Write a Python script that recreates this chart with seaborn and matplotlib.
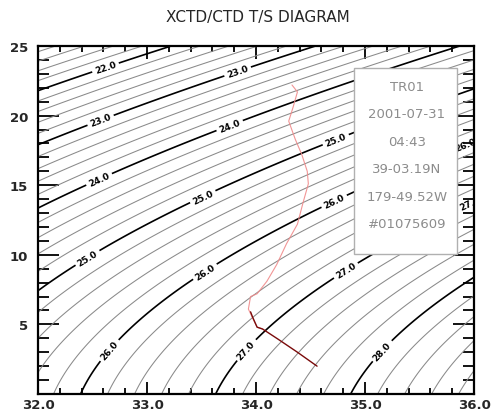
import numpy as np
import matplotlib
matplotlib.use("Agg")
import matplotlib.pyplot as plt
import seaborn as sns

sns.set_style("ticks")
plt.rcParams["font.family"] = ["DejaVu Sans"]

# --- chart content -------------------------------------------------------
title = "XCTD/CTD T/S DIAGRAM"
station_info = ["TR01", "2001-07-31", "04:43", "39-03.19N", "179-49.52W", "#01075609"]

# XCTD profile (salinity, temperature)
xctd_sal = [34.33, 34.36, 34.38, 34.34, 34.30, 34.36, 34.42, 34.47, 34.48,
            34.43, 34.38, 34.28, 34.19, 34.10, 34.01, 33.95, 33.93, 33.96,
            34.01, 34.06]
xctd_temp = [22.2, 21.9, 21.7, 20.6, 19.6, 18.3, 17.2, 16.0, 15.1,
             13.7, 12.2, 10.8, 9.3, 8.1, 7.2, 7.0, 6.1, 5.6,
             4.8, 4.67]

# CTD profile (deep part)
ctd_sal = [33.95, 33.97, 34.01, 34.06, 34.20, 34.38, 34.56]
ctd_temp = [5.9, 5.5, 4.8, 4.67, 3.95, 3.0, 2.0]

sal_ticks = [32.0, 33.0, 34.0, 35.0, 36.0]
temp_ticks = [0, 5, 10, 15, 20, 25]

thin_step = 0.2
thick_levels = [21.0, 22.0, 23.0, 24.0, 25.0, 26.0, 27.0, 28.0]

# where the sigma-t labels sit on the thick isopycnals
label_positions = [
    (32.63, 23.2),
    (33.83, 23.2), (32.57, 19.75),
    (32.55, 15.6), (33.76, 19.25),
    (32.46, 9.7), (33.51, 14.2), (34.74, 18.1),
    (32.66, 3.1), (33.53, 8.8), (34.75, 13.3), (35.93, 17.7),
    (33.92, 3.1), (34.83, 8.8), (35.96, 13.8),
    (35.17, 3.0),
]


def sigma_t(S, T):
    """UNESCO 1980 equation of state at surface pressure, minus 1000."""
    rho_w = (999.842594 + 6.793952e-2 * T - 9.095290e-3 * T**2
             + 1.001685e-4 * T**3 - 1.120083e-6 * T**4 + 6.536332e-9 * T**5)
    a = 0.824493 - 4.0899e-3 * T + 7.6438e-5 * T**2 - 8.2467e-7 * T**3 + 5.3875e-9 * T**4
    b = -5.72466e-3 + 1.0227e-4 * T - 1.6546e-6 * T**2
    c = 4.8314e-4
    return rho_w + a * S + b * S**1.5 + c * S**2 - 1000.0


# --- figure ---------------------------------------------------------------
fig = plt.figure(figsize=(4.93, 4.14), dpi=100)
ax = fig.add_axes([0.0771, 0.0459, 0.8844, 0.8406])

sg, tg = np.meshgrid(np.linspace(32, 36, 500), np.linspace(0, 25, 500))
sig = sigma_t(sg, tg)

all_levels = np.round(np.arange(20.0, 29.01, thin_step), 1)
thin_levels = [lv for lv in all_levels if lv not in thick_levels]
ax.contour(sg, tg, sig, levels=thin_levels, colors="#8a8a8a", linewidths=0.75)
cs = ax.contour(sg, tg, sig, levels=thick_levels, colors="black", linewidths=1.2)
with plt.rc_context({"font.weight": "bold"}):
    ax.clabel(cs, fmt="%.1f", fontsize=6.5, inline=True, inline_spacing=3,
              manual=label_positions)

sns.lineplot(x=xctd_sal, y=xctd_temp, sort=False, estimator=None,
             color="#f08a8a", lw=0.8, alpha=0.9, ax=ax)
sns.lineplot(x=ctd_sal, y=ctd_temp, sort=False, estimator=None,
             color="#7a0a0a", lw=1.0, ax=ax)

ax.set_xlim(32, 36)
ax.set_ylim(0, 25)
ax.set_xticks(sal_ticks)
ax.set_xticklabels([f"{v:.1f}" for v in sal_ticks], fontweight="bold", fontsize=9.5)
ax.set_xticks(np.arange(32, 36.01, 0.2), minor=True)
ax.set_yticks(temp_ticks)
ax.set_yticklabels(["" if v == 0 else str(v) for v in temp_ticks],
                   fontweight="bold", fontsize=9.5)
ax.set_yticks(np.arange(0, 25.01, 1), minor=True)

ax.tick_params(which="both", direction="in", top=True, right=True,
               width=1.3, color="black")
ax.tick_params(axis="x", which="major", length=9, pad=3)
ax.tick_params(axis="x", which="minor", length=4.5)
ax.tick_params(axis="y", which="major", length=15, pad=7)
ax.tick_params(axis="y", which="minor", length=8)
for sp in ax.spines.values():
    sp.set_linewidth(1.6)
    sp.set_color("black")
ax.set_xlabel("")
ax.set_ylabel("")

fig.text(0.523, 0.958, title, ha="center", va="center", fontsize=11)

# station information box
box = plt.Rectangle((0.7248, 0.4023), 0.2362, 0.5345, transform=ax.transAxes,
                    facecolor="white", edgecolor="#b0b0b0", lw=1.0, zorder=5)
ax.add_patch(box)
for i, line in enumerate(station_info):
    ax.text(0.8463, 0.885 - i * 0.0792, line, transform=ax.transAxes,
            ha="center", va="center", fontsize=9.5, color="#8c8c8c", zorder=6)

fig.savefig("out.png", dpi=100)
